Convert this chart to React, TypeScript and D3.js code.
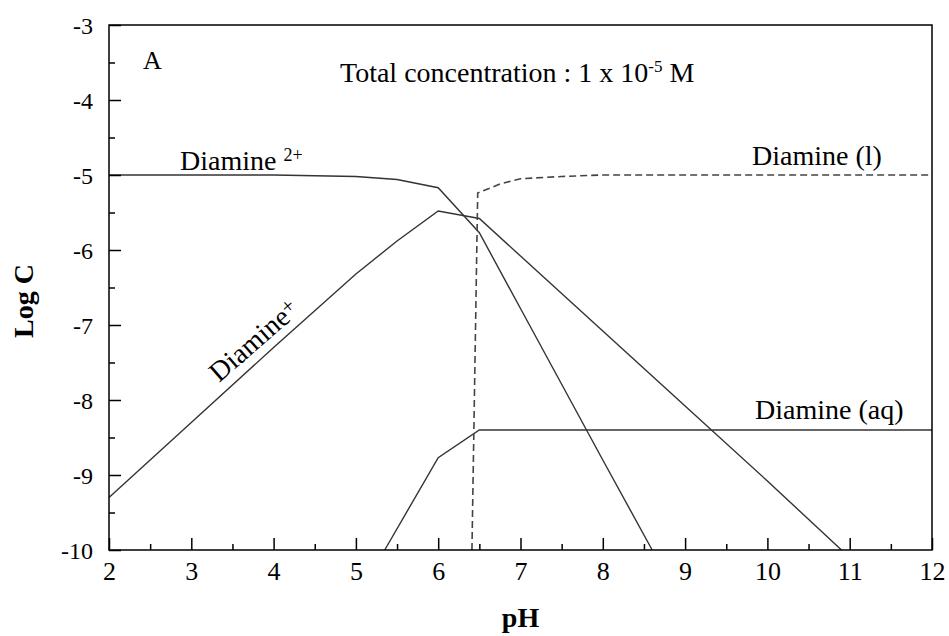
import * as d3 from "d3";
import { useEffect, useRef } from "react";

type Pt = [number, number];

// pH, log C
const diamine2plus: Pt[] = [
    [2, -5.0], [3, -5.0], [4, -5.0], [4.5, -5.01], [5, -5.02], [5.5, -5.06],
    [6, -5.17], [6.5, -5.77], [7, -6.78], [8, -8.8], [8.6, -10],
];
const diaminePlus: Pt[] = [
    [2, -9.3], [3, -8.3], [4, -7.3], [5, -6.32], [5.5, -5.88], [6, -5.48],
    [6.5, -5.58], [7, -6.08], [8, -7.08], [9, -8.08], [10, -9.08], [10.9, -10],
];
const diamineAq: Pt[] = [
    [5.35, -10], [6, -8.77], [6.5, -8.4], [7, -8.4], [8, -8.4], [9, -8.4],
    [10, -8.4], [11, -8.4], [12, -8.4],
];
const diamineL: Pt[] = [
    [6.41, -10], [6.48, -5.24], [6.75, -5.12], [7, -5.05], [7.5, -5.02],
    [8, -5.0], [9, -5.0], [10, -5.0], [11, -5.0], [12, -5.0],
];

const xTicks = [2, 3, 4, 5, 6, 7, 8, 9, 10, 11, 12];
const yTicks = [-3, -4, -5, -6, -7, -8, -9, -10];
const xMinor = [2.5, 3.5, 4.5, 5.5, 6.5, 7.5, 8.5, 9.5, 10.5, 11.5];
const yMinor = [-3.5, -4.5, -5.5, -6.5, -7.5, -8.5, -9.5];

const FONT = "'Liberation Serif', 'Times New Roman', serif";

export default function App() {
    const ref = useRef<SVGSVGElement | null>(null);

    useEffect(() => {
        if (!ref.current) return;
        const width = 949;
        const height = 636;
        const margin = { top: 25, right: 17, bottom: 86, left: 109 };

        const svg = d3.select(ref.current);
        svg.selectAll("*").remove();

        const x = d3.scaleLinear().domain([2, 12]).range([margin.left, width - margin.right]);
        const y = d3.scaleLinear().domain([-10, -3]).range([height - margin.bottom, margin.top]);

        const line = d3.line<Pt>().x((d) => x(d[0])).y((d) => y(d[1]));

        // curves
        const curves = svg.append("g").attr("fill", "none");
        [diamine2plus, diaminePlus, diamineAq].forEach((data) => {
            curves.append("path")
                .attr("d", line(data))
                .attr("stroke", "#333")
                .attr("stroke-width", 1.4);
        });
        curves.append("path")
            .attr("d", line(diamineL))
            .attr("stroke", "#444")
            .attr("stroke-width", 1.6)
            .attr("stroke-dasharray", "7,4");

        // axes
        const xAxis = svg.append("g")
            .attr("transform", `translate(0,${y(-10)})`)
            .call(d3.axisBottom(x).tickValues(xTicks).tickSize(-12).tickPadding(12).tickFormat((d) => String(d)));
        svg.append("g")
            .attr("transform", `translate(0,${y(-10)})`)
            .call(d3.axisBottom(x).tickValues(xMinor).tickSize(-6).tickFormat(() => ""))
            .call((g) => g.select(".domain").remove());
        const yAxis = svg.append("g")
            .attr("transform", `translate(${x(2)},0)`)
            .call(d3.axisLeft(y).tickValues(yTicks).tickSize(-12).tickPadding(16).tickFormat((d) => String(d)));
        svg.append("g")
            .attr("transform", `translate(${x(2)},0)`)
            .call(d3.axisLeft(y).tickValues(yMinor).tickSize(-6).tickFormat(() => ""))
            .call((g) => g.select(".domain").remove());

        [xAxis, yAxis].forEach((g) => {
            g.select(".domain").remove();
            g.selectAll("text")
                .attr("font-family", FONT)
                .attr("fill", "#000");
        });
        xAxis.selectAll("text").attr("font-size", 26);
        yAxis.selectAll("text").attr("font-size", 24).attr("dy", "0.34em");
        svg.selectAll(".tick line").attr("stroke", "#000").attr("stroke-width", 1.5);

        // frame
        svg.append("rect")
            .attr("x", x(2))
            .attr("y", y(-3))
            .attr("width", x(12) - x(2))
            .attr("height", y(-10) - y(-3))
            .attr("fill", "none")
            .attr("stroke", "#000")
            .attr("stroke-width", 1.5);

        const label = (tx: number, ty: number, size = 28) =>
            svg.append("text")
                .attr("x", tx)
                .attr("y", ty)
                .attr("font-family", FONT)
                .attr("font-size", size)
                .attr("fill", "#000");

        label(143, 69, 26).text("A");

        const total = label(340, 82, 28);
        total.append("tspan").text("Total concentration : 1 x 10");
        total.append("tspan").attr("font-size", 17).attr("dy", -10).text("-5");
        total.append("tspan").attr("dy", 10).text(" M");

        const d2 = label(180, 170, 28);
        d2.append("tspan").text("Diamine ");
        d2.append("tspan").attr("font-size", 18).attr("dy", -9).text("2+");

        label(752, 165, 28).text("Diamine (l)");
        label(755, 419, 28).text("Diamine (aq)");

        const dp = svg.append("text")
            .attr("transform", `translate(219,383) rotate(-41)`)
            .attr("font-family", FONT)
            .attr("font-size", 28)
            .attr("fill", "#000");
        dp.append("tspan").text("Diamine");
        dp.append("tspan").attr("font-size", 21).attr("dy", -6).text("+");

        svg.append("text")
            .attr("transform", `translate(33,301) rotate(-90)`)
            .attr("text-anchor", "middle")
            .attr("font-family", FONT)
            .attr("font-size", 28)
            .attr("font-weight", "bold")
            .attr("fill", "#000")
            .text("Log C");

        svg.append("text")
            .attr("x", (x(2) + x(12)) / 2)
            .attr("y", 627)
            .attr("text-anchor", "middle")
            .attr("font-family", FONT)
            .attr("font-size", 28)
            .attr("font-weight", "bold")
            .attr("fill", "#000")
            .text("pH");
    }, []);

    return (
        <div style={{ position: "absolute", left: 0, top: 0, background: "#fff" }}>
            <svg ref={ref} width={949} height={636} style={{ display: "block" }}></svg>
        </div>
    );
}
